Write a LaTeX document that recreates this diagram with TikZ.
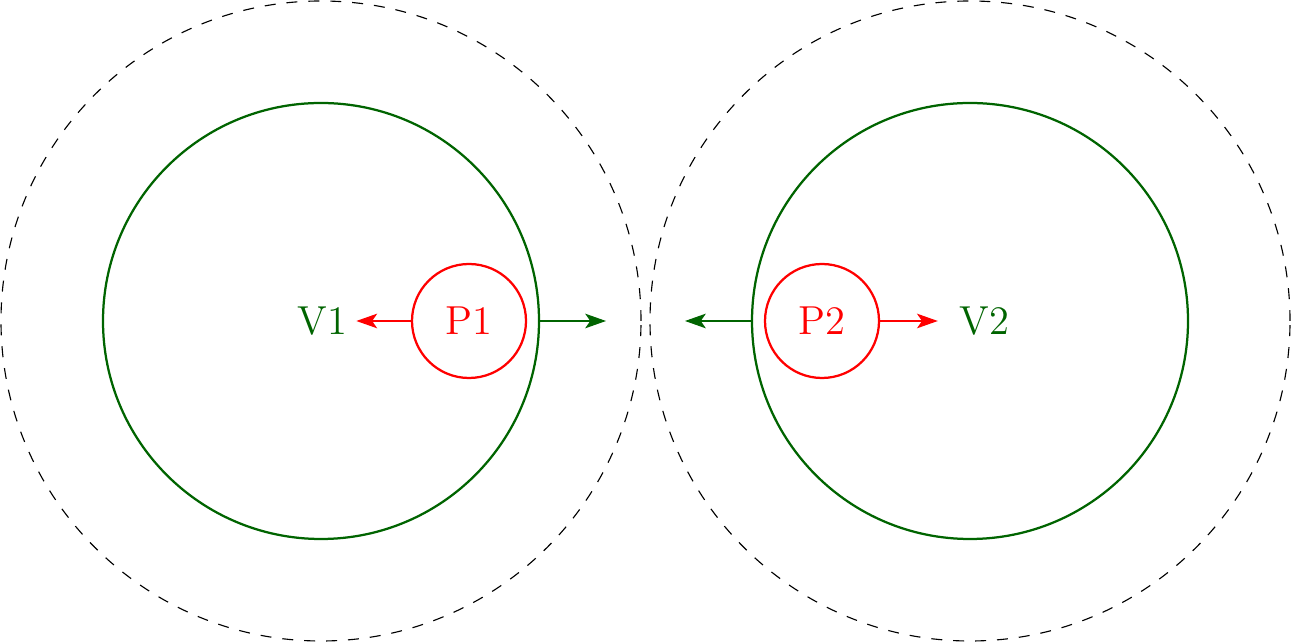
\documentclass[tikz,border=0pt]{standalone}
\usepackage{tikz}
\usetikzlibrary{arrows.meta}
\definecolor{xanhdam}{RGB}{0,100,0}

\begin{document}
\begin{tikzpicture}[
	vong/.style={circle,draw=xanhdam,thick,inner sep=0pt,minimum size=5.45cm},
	hat/.style={circle,draw=red,thick,text=red,inner sep=0pt,minimum size=1.425cm,font=\Large},
	nhan/.style={text=xanhdam,inner sep=3pt,font=\Large},
	bien/.style={dash pattern=on 3.9pt off 3.9pt},
	mui/.style={-{Stealth[length=7.4pt,width=5.2pt,inset=1.8pt]}}]
			\useasboundingbox (-4.0125,-4.025) rectangle (12.1375,4.0125);
			\coordinate (O1) at (0,0);
			\coordinate (O2) at (8.1125,0);
			\draw[bien] (O1) circle (4);
			\draw[bien] (O2) circle (4);
			
			\node[vong] (g1) at (O1) {};
			\node[vong] (g2) at (O2) {};
			\node[hat] (p1) at (1.85,0) {P1};
			\node[hat] (p2) at (6.2625,0) {P2};
			\node[nhan] (v1) at (0.02,0) {V1};
			\node[nhan] (v2) at (8.29,0) {V2};
			\coordinate (d1) at (3.5625,0);
			\coordinate (d2) at (4.55,0);
			
			\draw[mui,red] (p1) -- (v1);
			\draw[mui,red,shorten >=4.5pt] (p2) -- (v2);
			\draw[mui,xanhdam] (g1.east) -- (d1);
			\draw[mui,xanhdam] (g2.west) -- (d2);
		\end{tikzpicture}
\end{document}
